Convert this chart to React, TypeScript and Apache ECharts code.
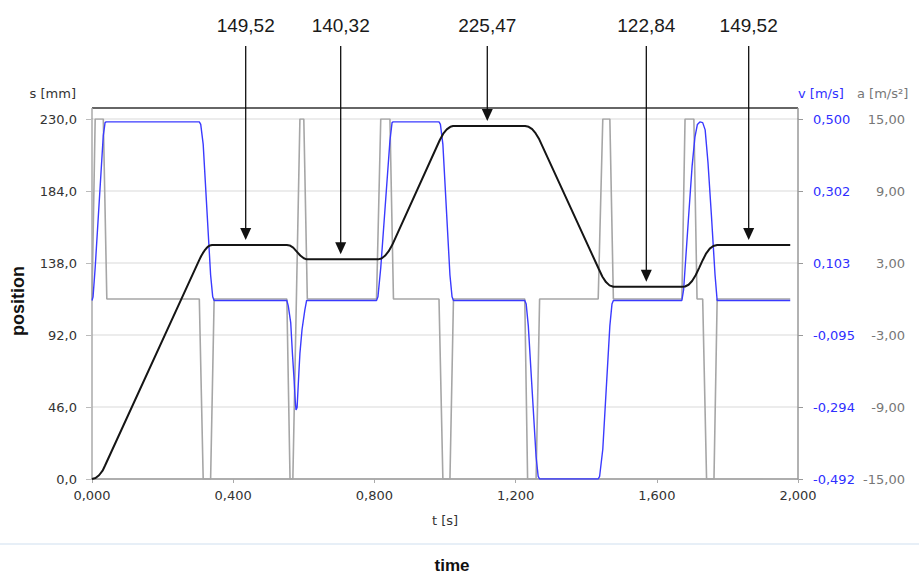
import React, { useEffect, useRef } from "react";
import * as echarts from "echarts";

// ---- time axis / tick definitions ----
const T_MIN = 0;
const T_MAX = 2;
const T_INTERVAL = 0.4;
const S_MIN = 0;
const S_MAX = 230;
const S_INTERVAL = 46;
const V_MIN = -0.492;
const V_MAX = 0.5;
const V_TICKS = [-0.492, -0.2936, -0.0952, 0.1032, 0.3016, 0.5];
const A_MIN = -15;
const A_MAX = 15;
const A_TICKS = [-15, -9, -3, 3, 9, 15];

// ---- position s [mm] ----
const POS_T = [
  0, 0.01, 0.02, 0.03, 0.037, 0.304, 0.309, 0.314, 0.319, 0.324, 0.329, 0.334, 0.34, 0.346,
  0.552, 0.56, 0.57, 0.58, 0.59, 0.6, 0.608,
  0.81, 0.82, 0.83, 0.84, 0.85, 0.985, 0.995, 1.005, 1.015, 1.023,
  1.227, 1.237, 1.247, 1.257, 1.267, 1.436, 1.446, 1.456, 1.466, 1.477,
  1.671, 1.68, 1.69, 1.7, 1.71, 1.72, 1.73, 1.74, 1.75, 1.76, 1.771, 1.978,
];
const POS_S = [
  0, 0.6, 2.4, 5.3, 8.6, 140, 142.3, 144.3, 146.0, 147.4, 148.5, 149.2, 149.45, 149.52,
  149.52, 149.2, 147.8, 145.3, 142.8, 141.0, 140.32,
  140.32, 140.9, 142.6, 145.4, 149.3, 216.4, 220.6, 223.4, 225.0, 225.47,
  225.47, 225.0, 223.5, 220.8, 217, 134, 129.2, 125.8, 123.7, 122.84,
  122.84, 123.0, 124.1, 126.5, 130.2, 134.9, 139.8, 144.2, 147.2, 148.9, 149.52, 149.52,
];

// ---- velocity v [m/s] ----
const VEL_T = [
  0, 0.003, 0.009, 0.032, 0.037, 0.04, 0.304, 0.308, 0.315, 0.336, 0.342, 0.346,
  0.552, 0.556, 0.563, 0.568, 0.572, 0.576, 0.578, 0.581, 0.586, 0.589, 0.595, 0.603, 0.608,
  0.806, 0.81, 0.818, 0.844, 0.85, 0.853, 0.983, 0.987, 0.994, 1.014, 1.02, 1.024,
  1.226, 1.23, 1.236, 1.258, 1.264, 1.268, 1.434, 1.438, 1.447, 1.467, 1.473, 1.477,
  1.671, 1.676, 1.69, 1.7, 1.708, 1.715, 1.722, 1.73, 1.737, 1.745, 1.755, 1.765, 1.771, 1.978,
];
const VEL_V = [
  0, 0.01, 0.09, 0.455, 0.49, 0.492, 0.492, 0.485, 0.43, 0.07, 0.01, 0,
  0, -0.015, -0.062, -0.15, -0.21, -0.28, -0.302, -0.295, -0.2, -0.146, -0.08, -0.026, 0,
  0, 0.01, 0.09, 0.44, 0.49, 0.492, 0.492, 0.485, 0.43, 0.07, 0.01, 0,
  0, -0.01, -0.07, -0.43, -0.485, -0.492, -0.492, -0.485, -0.41, -0.07, -0.01, 0,
  0, 0.03, 0.23, 0.37, 0.45, 0.485, 0.492, 0.49, 0.47, 0.38, 0.23, 0.07, 0, 0,
];

// ---- acceleration a [m/s²] ----
const ACC_T = [
  0, 0.002, 0.009, 0.032, 0.042,
  0.304, 0.315, 0.336, 0.346,
  0.552, 0.561, 0.569, 0.589, 0.6, 0.61,
  0.806, 0.818, 0.844, 0.854,
  0.983, 0.994, 1.014, 1.024,
  1.226, 1.234, 1.258, 1.268,
  1.434, 1.447, 1.467, 1.477,
  1.671, 1.68, 1.705, 1.714, 1.73, 1.741, 1.762, 1.771,
  1.978,
];
const ACC_A = [
  0, 0, 15, 15, 0,
  0, -15, -15, 0,
  0, -15, -15, 15, 15, 0,
  0, 15, 15, 0,
  0, -15, -15, 0,
  0, -15, -15, 0,
  0, 15, 15, 0,
  0, 15, 15, 0, 0, -15, -15, 0,
  0,
];

// ---- annotations (position values marked with arrows) ----
const ANNOT_T = [0.4354, 0.7045, 1.1198, 1.5703, 1.8603];
const ANNOT_S = [149.52, 140.32, 225.47, 122.84, 149.52];

const FONT = "DejaVu Sans";
const comma = (v: number, d: number) => v.toFixed(d).replace(".", ",");
const zip = (a: number[], b: number[]) => a.map((t, i) => [t, b[i]]);

export default function App() {
  const ref = useRef<HTMLDivElement>(null);

  useEffect(() => {
    const el = ref.current;
    if (!el) return;
    const chart = echarts.init(el, null, { renderer: "svg" });

    chart.setOption({
      animation: false,
      backgroundColor: "#ffffff",
      textStyle: { fontFamily: FONT },
      grid: {
        left: 92,
        right: 121,
        top: 119,
        bottom: 97,
        outerBoundsMode: "none",
        containLabel: false,
      },
      xAxis: {
        type: "value",
        min: T_MIN,
        max: T_MAX,
        interval: T_INTERVAL,
        name: "t [s]",
        nameLocation: "middle",
        nameGap: 41,
        nameTextStyle: { color: "#333", fontSize: 13, fontFamily: FONT, verticalAlign: "middle" },
        axisLine: { show: true, lineStyle: { color: "#999", width: 1.5 } },
        axisTick: { show: true, length: 4, lineStyle: { color: "#aaa" } },
        axisLabel: {
          color: "#333",
          fontSize: 13,
          fontFamily: FONT,
          margin: 10,
          formatter: (v: number) => comma(v, 3),
        },
        splitLine: { show: false },
      },
      yAxis: [
        {
          type: "value",
          position: "left",
          min: S_MIN,
          max: S_MAX,
          interval: S_INTERVAL,
          name: "s [mm]",
          nameLocation: "end",
          nameGap: 26,
          nameTextStyle: {
            color: "#333",
            fontSize: 13,
            fontFamily: FONT,
            align: "right",
            verticalAlign: "middle",
            padding: [0, 16, 0, 0],
          },
          axisLine: { show: true, lineStyle: { color: "#aaa", width: 1.5 } },
          axisTick: { show: true, length: 6, lineStyle: { color: "#bbb" } },
          axisLabel: {
            color: "#333",
            fontSize: 13,
            fontFamily: FONT,
            margin: 15,
            formatter: (v: number) => comma(v, 1),
          },
          splitLine: { show: true, lineStyle: { color: "#e6e6e6", width: 1.5 } },
        },
        {
          type: "value",
          position: "right",
          min: V_MIN,
          max: V_MAX,
          name: "v [m/s]",
          nameLocation: "end",
          nameGap: 26,
          nameTextStyle: {
            color: "#2f2fff",
            fontSize: 13,
            fontFamily: FONT,
            align: "left",
            verticalAlign: "middle",
          },
          axisLine: { show: true, lineStyle: { color: "#999", width: 1.5 } },
          axisTick: { show: true, length: 5, customValues: V_TICKS, lineStyle: { color: "#999" } },
          axisLabel: {
            color: "#2f2fff",
            fontSize: 13,
            fontFamily: FONT,
            margin: 15,
            customValues: V_TICKS,
            formatter: (v: number) => comma(v, 3),
          },
          splitLine: { show: false },
        },
        {
          type: "value",
          position: "right",
          offset: 59,
          min: A_MIN,
          max: A_MAX,
          name: "a [m/s²]",
          nameLocation: "end",
          nameGap: 26,
          nameTextStyle: {
            color: "#777",
            fontSize: 13,
            fontFamily: FONT,
            align: "left",
            verticalAlign: "middle",
          },
          axisLine: { show: false },
          axisTick: { show: false, customValues: A_TICKS },
          axisLabel: {
            color: "#777",
            fontSize: 13,
            fontFamily: FONT,
            margin: 48,
            align: "right",
            customValues: A_TICKS,
            formatter: (v: number) => comma(v, 2),
          },
          splitLine: { show: false },
        },
      ],
      series: [
        {
          name: "a",
          type: "line",
          yAxisIndex: 2,
          data: zip(ACC_T, ACC_A),
          showSymbol: false,
          lineStyle: { color: "#a6a6a6", width: 1.6 },
          itemStyle: { color: "#a6a6a6" },
          z: 2,
        },
        {
          name: "v",
          type: "line",
          yAxisIndex: 1,
          data: zip(VEL_T, VEL_V),
          showSymbol: false,
          lineStyle: { color: "#3a3aff", width: 1.4 },
          itemStyle: { color: "#3a3aff" },
          z: 3,
        },
        {
          name: "s",
          type: "line",
          yAxisIndex: 0,
          data: zip(POS_T, POS_S),
          showSymbol: false,
          lineStyle: { color: "#151515", width: 2 },
          itemStyle: { color: "#151515" },
          z: 4,
        },
      ],
    });

    // Frame top & annotations, positioned through the chart's own scales
    const px = (t: number, s: number) =>
      chart.convertToPixel({ xAxisIndex: 0, yAxisIndex: 0 }, [t, s]) as number[];
    const [xL, yTopVal] = px(T_MIN, S_MAX);
    const [xR] = px(T_MAX, S_MAX);
    const frameTop = yTopVal - 11;

    const elements: any[] = [
      { type: "line", shape: { x1: xL, y1: frameTop, x2: xR, y2: frameTop }, style: { stroke: "#666", lineWidth: 1.8 }, z: 10 },
      { type: "line", shape: { x1: xL, y1: frameTop, x2: xL, y2: yTopVal }, style: { stroke: "#aaa", lineWidth: 1.5 }, z: 10 },
      { type: "line", shape: { x1: xR, y1: frameTop, x2: xR, y2: yTopVal }, style: { stroke: "#999", lineWidth: 1.5 }, z: 10 },
      { type: "line", shape: { x1: 0, y1: 544, x2: 919, y2: 544 }, style: { stroke: "#dfeaf5", lineWidth: 1.5 }, z: 10 },
      {
        type: "text",
        x: 18,
        y: 301,
        rotation: Math.PI / 2,
        style: {
          text: "position",
          fill: "#111",
          font: 'bold 18px "Liberation Sans"',
          align: "center",
          verticalAlign: "middle",
        },
        z: 10,
      },
      {
        type: "text",
        x: 452,
        y: 565,
        style: {
          text: "time",
          fill: "#111",
          font: 'bold 17px "Liberation Sans"',
          align: "center",
          verticalAlign: "middle",
        },
        z: 10,
      },
    ];

    ANNOT_T.forEach((t, i) => {
      const [x, y] = px(t, ANNOT_S[i]);
      const tip = y - 5;
      elements.push(
        {
          type: "text",
          x,
          y: 25,
          style: {
            text: comma(ANNOT_S[i], 2),
            fill: "#1a1a1a",
            font: '19px "Liberation Sans"',
            align: "center",
            verticalAlign: "middle",
          },
          z: 20,
        },
        {
          type: "line",
          shape: { x1: x, y1: 46, x2: x, y2: tip - 11 },
          style: { stroke: "#111", lineWidth: 1.3 },
          z: 20,
        },
        {
          type: "polygon",
          shape: { points: [[x - 5.5, tip - 12], [x + 5.5, tip - 12], [x, tip]] },
          style: { fill: "#111" },
          z: 20,
        }
      );
    });

    chart.setOption({ graphic: { elements } });

    return () => {
      chart.dispose();
    };
  }, []);

  return (
    <div
      ref={ref}
      style={{ position: "fixed", left: 0, top: 0, width: 919, height: 576, background: "#fff" }}
    />
  );
}
